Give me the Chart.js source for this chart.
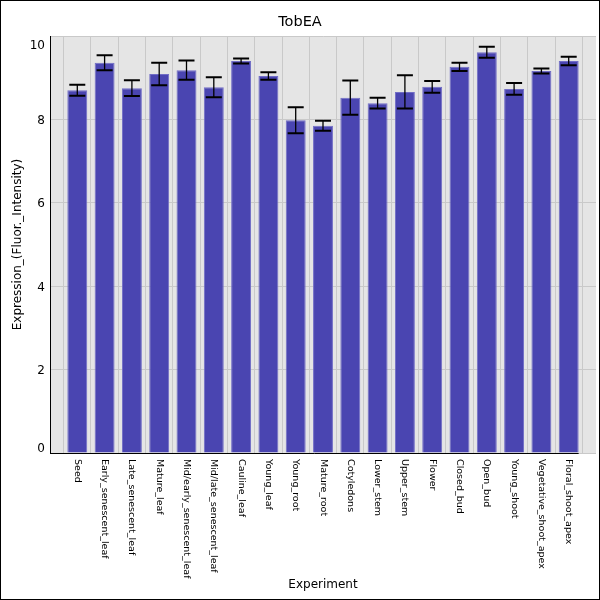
<!DOCTYPE html>
<html>
<head>
<meta charset="utf-8">
<script src="https://cdn.jsdelivr.net/npm/chart.js@4.4.1/dist/chart.umd.min.js"></script>
<style>
  html, body { margin: 0; padding: 0; background: #fff; }
  canvas { display: block; }
</style>
</head>
<body>
<canvas id="chart" width="600" height="600"></canvas>
<script>
const categories = [
  'Seed', 'Early_senescent_leaf', 'Late_senescent_leaf', 'Mature_leaf',
  'Mid/early_senescent_leaf', 'Mid/late_senescent_leaf', 'Cauline_leaf',
  'Young_leaf', 'Young_root', 'Mature_root', 'Cotyledons', 'Lower_stem',
  'Upper_stem', 'Flower', 'Closed_bud', 'Open_bud', 'Young_shoot',
  'Vegetative_shoot_apex', 'Floral_shoot_apex'
];
const expression = [8.70, 9.36, 8.75, 9.09, 9.18, 8.77, 9.40, 9.04, 7.98, 7.85,
                    8.52, 8.39, 8.66, 8.78, 9.26, 9.61, 8.73, 9.16, 9.40];
const errors = [0.13, 0.18, 0.19, 0.27, 0.23, 0.24, 0.06, 0.09, 0.31, 0.12,
                0.41, 0.13, 0.40, 0.14, 0.10, 0.13, 0.14, 0.06, 0.10];
const yTicks = [0, 2, 4, 6, 8, 10];

const FONT = '"DejaVu Sans", sans-serif';

// background, error bars, axis text and frame
const decorations = {
  id: 'decorations',
  beforeDraw(chart) {
    const { ctx, chartArea: a } = chart;
    ctx.save();
    ctx.fillStyle = '#ffffff';
    ctx.fillRect(0, 0, chart.width, chart.height);
    ctx.fillStyle = '#e5e5e5';
    ctx.fillRect(a.left, a.top, a.right - a.left, a.bottom - a.top);
    ctx.restore();
  },
  afterDatasetsDraw(chart) {
    const { ctx, chartArea: a, scales: { x, y } } = chart;
    const bars = chart.getDatasetMeta(0).data;
    ctx.save();
    ctx.strokeStyle = '#000';

    bars.forEach((bar, i) => {
      const top = y.getPixelForValue(expression[i] + errors[i]);
      const bot = y.getPixelForValue(expression[i] - errors[i]);
      ctx.lineWidth = 1.3;
      ctx.beginPath();
      ctx.moveTo(bar.x, top);
      ctx.lineTo(bar.x, bot);
      ctx.stroke();
      ctx.lineWidth = 2;
      ctx.beginPath();
      ctx.moveTo(bar.x - 8, top); ctx.lineTo(bar.x + 8, top);
      ctx.moveTo(bar.x - 8, bot); ctx.lineTo(bar.x + 8, bot);
      ctx.stroke();
    });

    // bottom axis line stops at the last bar
    const last = bars[bars.length - 1];
    ctx.lineWidth = 1;
    ctx.beginPath();
    ctx.moveTo(a.left, a.bottom + 0.5);
    ctx.lineTo(last.x + last.width / 2, a.bottom + 0.5);
    ctx.stroke();

    ctx.fillStyle = '#000';

    // x tick labels, rotated clockwise
    ctx.font = '9.5px ' + FONT;
    ctx.textAlign = 'left';
    ctx.textBaseline = 'middle';
    categories.forEach((c, i) => {
      ctx.save();
      ctx.translate(x.getPixelForValue(i + 1), a.bottom + 6);
      ctx.rotate(Math.PI / 2);
      ctx.fillText(c, 0, 0);
      ctx.restore();
    });

    // y tick labels, kept inside the plot height
    ctx.font = '12px ' + FONT;
    ctx.textAlign = 'right';
    ctx.textBaseline = 'alphabetic';
    yTicks.forEach(v => {
      let py = y.getPixelForValue(v) + 4.4;
      py = Math.min(Math.max(py, a.top + 13.3), a.bottom - 1.3);
      ctx.fillText(String(v), a.left - 5, py);
    });

    // titles
    ctx.textAlign = 'center';
    ctx.font = '14.5px ' + FONT;
    ctx.fillText('TobEA', 300, 26);

    ctx.font = '12px ' + FONT;
    ctx.textBaseline = 'middle';
    ctx.fillText('Experiment', (a.left + a.right) / 2, 585);

    ctx.save();
    ctx.translate(18, (a.top + a.bottom) / 2);
    ctx.rotate(-Math.PI / 2);
    ctx.fillText('Expression_(Fluor._Intensity)', 0, 0);
    ctx.restore();

    // frame
    ctx.lineWidth = 1;
    ctx.strokeRect(0.5, 0.5, chart.width - 1, chart.height - 1);
    ctx.restore();
  }
};

new Chart(document.getElementById('chart'), {
  type: 'bar',
  data: {
    datasets: [{
      data: expression.map((v, i) => ({ x: i + 1, y: v })),
      backgroundColor: '#4a45b1',
      borderColor: '#716dc6',
      borderWidth: 1,
      barPercentage: 0.73,
      categoryPercentage: 1
    }]
  },
  options: {
    responsive: false,
    devicePixelRatio: 1,
    animation: false,
    layout: { padding: { left: 50, right: 4, top: 36, bottom: 147 } },
    plugins: {
      legend: { display: false },
      tooltip: { enabled: false },
      title: { display: false }
    },
    scales: {
      x: {
        type: 'linear',
        min: 0,
        max: categories.length + 1,
        offset: false,
        afterBuildTicks: s => { s.ticks = categories.map((c, i) => ({ value: i + 1 })); },
        afterFit: s => { s.height = 0; },
        ticks: { display: false },
        grid: { color: '#c9c9c9', drawTicks: false },
        border: { display: false }
      },
      y: {
        min: 0,
        max: 10,
        afterBuildTicks: s => { s.ticks = yTicks.map(v => ({ value: v })); },
        afterFit: s => { s.width = 0; },
        ticks: { display: false },
        grid: { color: '#c9c9c9', drawTicks: false },
        border: { color: '#000', width: 1 }
      }
    }
  },
  plugins: [decorations]
});
</script>
</body>
</html>
